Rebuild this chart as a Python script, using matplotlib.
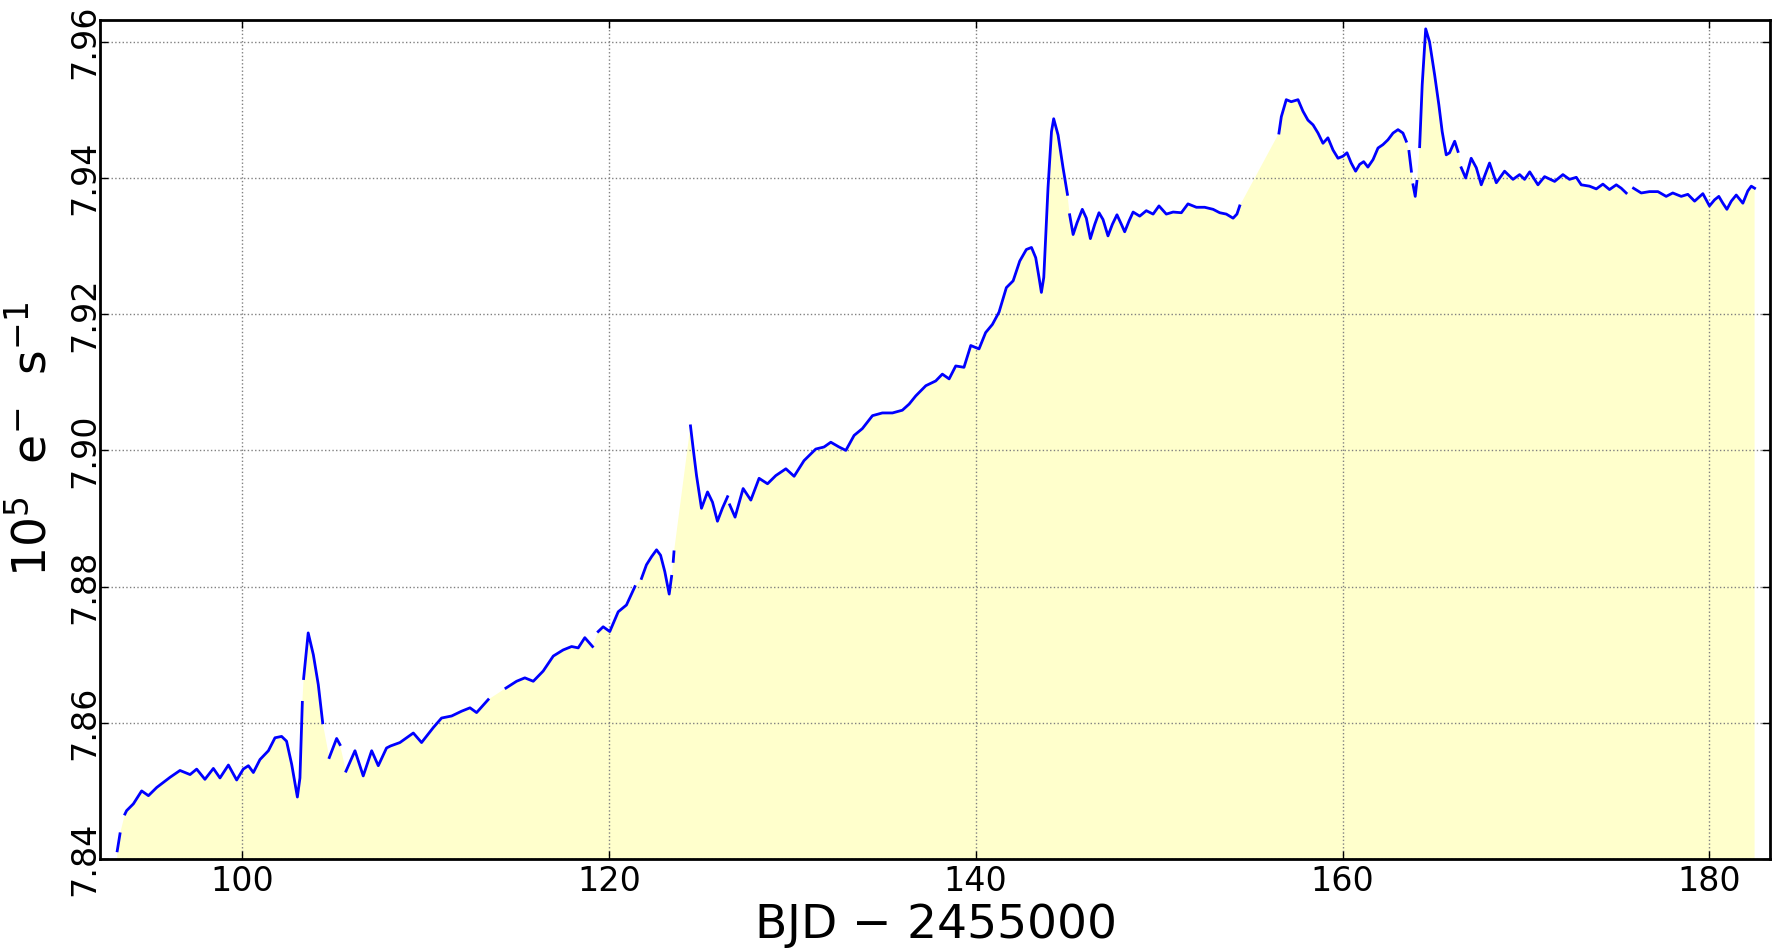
import numpy as np
import matplotlib
matplotlib.use("Agg")
import matplotlib.pyplot as plt

# Light curve (BJD - 2455000, flux in 1e5 e-/s); None = data gap
time = [93.20, 93.35, None, 93.62, 93.71, 94.08, 94.53, 94.90, 95.35, 96.08, 96.62, 97.17,
        97.53, 97.98, 98.44, 98.80, 99.26, 99.71, 100.07, 100.35, 100.62, 100.98, 101.44,
        101.80, 102.16, 102.43, 102.71, 103.02, 103.16, 103.29, None, 103.36, 103.61, 103.89,
        104.16, 104.40, None, 104.76, 105.16, 105.34, None, 105.67, 106.16, 106.61, 107.07,
        107.43, 107.88, 108.10, 108.61, 109.34, 109.79, 110.43, 110.88, 111.43, 111.97,
        112.43, 112.79, 113.42, None, 114.39, 114.97, 115.42, 115.88, 116.42, 116.97, 117.51,
        117.97, 118.33, 118.69, 119.11, None, 119.42, 119.69, 120.05, 120.51, 120.96, 121.42,
        None, 121.78, 122.05, 122.33, 122.60, 122.82, 123.05, 123.29, 123.42, None, 123.51,
        123.55, None, 124.45, 124.60, 124.78, 125.05, 125.38, 125.65, 125.92, 126.19, 126.47,
        None, 126.59, 126.88, 127.32, 127.74, 128.19, 128.65, 129.10, 129.65, 130.10, 130.64,
        131.28, 131.73, 132.10, 132.55, 132.92, 133.37, 133.82, 134.37, 134.91, 135.46,
        136.00, 136.37, 136.73, 137.28, 137.82, 138.18, 138.55, 138.91, 139.36, 139.73,
        140.18, 140.54, 140.91, 141.27, 141.67, 142.04, 142.40, 142.76, 143.04, 143.27,
        143.45, 143.58, 143.71, 143.94, 144.13, 144.25, 144.49, 144.76, 145.00, None, 145.12,
        145.31, 145.52, 145.81, 146.03, 146.25, 146.49, 146.72, 146.94, 147.21, 147.45,
        147.70, 147.94, 148.12, 148.36, 148.58, 148.94, 149.30, 149.67, 149.99, 150.39,
        150.76, 151.21, 151.57, 152.03, 152.48, 152.94, 153.30, 153.66, 154.03, 154.24,
        154.39, None, 156.53, 156.66, 156.93, 157.20, 157.57, 157.84, 158.11, 158.39, 158.66,
        158.93, 159.20, 159.48, 159.75, 160.02, 160.24, 160.47, 160.71, 160.93, 161.15,
        161.38, 161.66, 161.93, 162.20, 162.47, 162.75, 163.02, 163.29, 163.47, None, 163.62,
        163.75, None, 163.84, 163.96, 164.05, None, 164.20, 164.34, 164.53, 164.74, 165.02,
        165.25, 165.43, 165.65, 165.83, 166.11, 166.29, None, 166.47, 166.71, 167.01, 167.29,
        167.56, 168.01, 168.38, 168.83, 169.29, 169.65, 169.92, 170.20, 170.65, 171.01,
        171.56, 172.01, 172.37, 172.74, 173.01, 173.46, 173.83, 174.19, 174.55, 174.92,
        175.19, 175.46, None, 175.86, 176.28, 176.73, 177.19, 177.64, 178.00, 178.46, 178.82,
        179.19, 179.64, 180.00, 180.28, 180.51, 180.73, 180.95, 181.19, 181.46, 181.82,
        182.09, 182.28, 182.46]

flux = [7.8412, 7.8437, None, 7.8466, 7.8471, 7.8481, 7.8500, 7.8493, 7.8505, 7.8520, 7.8530,
        7.8524, 7.8532, 7.8517, 7.8533, 7.8519, 7.8538, 7.8516, 7.8532, 7.8537, 7.8527,
        7.8546, 7.8559, 7.8578, 7.8580, 7.8573, 7.8539, 7.8491, 7.8519, 7.8630, None, 7.8665,
        7.8732, 7.8700, 7.8656, 7.8600, None, 7.8549, 7.8577, 7.8568, None, 7.8529, 7.8559,
        7.8522, 7.8559, 7.8537, 7.8563, 7.8566, 7.8571, 7.8585, 7.8571, 7.8593, 7.8607,
        7.8610, 7.8617, 7.8622, 7.8615, 7.8634, None, 7.8651, 7.8661, 7.8666, 7.8661, 7.8676,
        7.8698, 7.8707, 7.8712, 7.8710, 7.8725, 7.8712, None, 7.8734, 7.8741, 7.8734, 7.8763,
        7.8773, 7.8800, None, 7.8812, 7.8832, 7.8844, 7.8854, 7.8846, 7.8822, 7.8789, 7.8815,
        None, 7.8837, 7.8851, None, 7.9036, 7.9002, 7.8963, 7.8915, 7.8939, 7.8924, 7.8896,
        7.8915, 7.8932, None, 7.8920, 7.8902, 7.8944, 7.8927, 7.8959, 7.8951, 7.8963, 7.8973,
        7.8962, 7.8985, 7.9002, 7.9005, 7.9012, 7.9005, 7.9000, 7.9022, 7.9032, 7.9051,
        7.9055, 7.9055, 7.9059, 7.9068, 7.9080, 7.9095, 7.9102, 7.9112, 7.9105, 7.9124,
        7.9122, 7.9154, 7.9149, 7.9173, 7.9185, 7.9203, 7.9239, 7.9249, 7.9278, 7.9295,
        7.9298, 7.9283, 7.9254, 7.9232, 7.9254, 7.9385, 7.9468, 7.9487, 7.9463, 7.9415,
        7.9376, None, 7.9346, 7.9317, 7.9334, 7.9354, 7.9341, 7.9311, 7.9332, 7.9349, 7.9339,
        7.9315, 7.9332, 7.9346, 7.9332, 7.9321, 7.9337, 7.9350, 7.9344, 7.9352, 7.9347,
        7.9359, 7.9347, 7.9350, 7.9349, 7.9362, 7.9357, 7.9357, 7.9354, 7.9349, 7.9347,
        7.9341, 7.9347, 7.9359, None, 7.9466, 7.9490, 7.9515, 7.9512, 7.9515, 7.9498, 7.9485,
        7.9478, 7.9466, 7.9451, 7.9459, 7.9441, 7.9429, 7.9432, 7.9437, 7.9422, 7.9410,
        7.9420, 7.9424, 7.9416, 7.9427, 7.9444, 7.9449, 7.9456, 7.9466, 7.9471, 7.9466,
        7.9454, None, 7.9439, 7.9410, None, 7.9390, 7.9373, 7.9395, None, 7.9446, 7.9537,
        7.9619, 7.9600, 7.9551, 7.9507, 7.9468, 7.9434, 7.9437, 7.9454, 7.9439, None, 7.9415,
        7.9400, 7.9429, 7.9415, 7.9390, 7.9422, 7.9393, 7.9410, 7.9398, 7.9405, 7.9398,
        7.9409, 7.9390, 7.9402, 7.9395, 7.9405, 7.9398, 7.9401, 7.9390, 7.9388, 7.9384,
        7.9391, 7.9383, 7.9390, 7.9385, 7.9378, None, 7.9385, 7.9378, 7.9380, 7.9380, 7.9373,
        7.9378, 7.9373, 7.9376, 7.9366, 7.9377, 7.9359, 7.9368, 7.9373, 7.9363, 7.9354,
        7.9366, 7.9375, 7.9363, 7.9381, 7.9388, 7.9385]

x_ticks = [100, 120, 140, 160, 180]
y_ticks = [7.84, 7.86, 7.88, 7.90, 7.92, 7.94, 7.96]
x_label = "BJD $-$ 2455000"
y_label = r"$10^5\ \ \mathrm{e^{-}\ \ s^{-1}}$"

t = np.array([np.nan if v is None else v for v in time], dtype=float)
f = np.array([np.nan if v is None else v for v in flux], dtype=float)
ok = ~np.isnan(f)

plt.rcParams['font.family'] = ['DejaVu Sans']
plt.rcParams['mathtext.fontset'] = 'dejavusans'

fig = plt.figure(figsize=(17.77, 9.49), dpi=100)
ax = fig.add_axes([100 / 1777, 90 / 949, 1670 / 1777, 839 / 949])

ax.fill_between(t[ok], f[ok], y_ticks[0], facecolor='#ffffcc', edgecolor='none', zorder=1)
ax.plot(t, f, color='#0000ff', lw=2.0, zorder=3)

ax.set_xlim(92.26, 183.3)
ax.set_ylim(7.84, 7.9632)
ax.set_xticks(x_ticks)
ax.set_yticks(y_ticks)
ax.set_xticklabels([str(v) for v in x_ticks])
ax.set_yticklabels(["%.2f" % v for v in y_ticks], rotation=90, va='center')

ax.grid(True, color='0.5', linestyle=':', linewidth=1.0, zorder=2)
ax.tick_params(axis='both', which='major', direction='in', length=6, width=1,
               top=True, right=True, labelsize=24)
ax.tick_params(axis='x', pad=4)
ax.tick_params(axis='y', pad=-1)
for s in ax.spines.values():
    s.set_linewidth(2.0)

ax.set_xlabel(x_label, fontsize=34)
ax.set_ylabel(y_label, fontsize=34)
ax.xaxis.set_label_coords(0.5, -0.050)
ax.yaxis.set_label_coords(-0.026, 0.5)

fig.savefig('out.png', dpi=100)
